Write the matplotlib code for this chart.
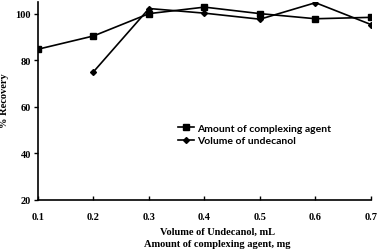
import matplotlib
matplotlib.use("Agg")
import matplotlib.pyplot as plt

x_agent = [0.1, 0.2, 0.3, 0.4, 0.5, 0.6, 0.7]
y_agent = [84.7, 90.4, 100.0, 102.8, 100.0, 97.8, 98.4]
x_vol = [0.2, 0.3, 0.4, 0.5, 0.6, 0.7]
y_vol = [75.0, 102.2, 100.2, 97.6, 104.7, 95.3]
xticks = [0.1, 0.2, 0.3, 0.4, 0.5, 0.6, 0.7]
yticks = [20, 40, 60, 80, 100]

fig = plt.figure(figsize=(3.78, 2.51), dpi=100)
ax = fig.add_axes([38/378, 1-200.7/251, (371-38)/378, (200.7-3)/251])

ax.plot(x_agent, y_agent, color='black', lw=1.2, marker='s', ms=5, label='Amount of complexing agent')
ax.plot(x_vol, y_vol, color='black', lw=1.2, marker='D', ms=3, label='Volume of undecanol')

ax.set_xlim(0.1, 0.7)
ax.set_ylim(20, 105)
ax.set_xticks(xticks)
ax.set_xticklabels([f"{v:.1f}" for v in xticks])
ax.set_yticks(yticks)
ax.set_yticklabels([str(v) for v in yticks])
for s in ['top', 'right']:
    ax.spines[s].set_visible(False)
for s in ['left', 'bottom']:
    ax.spines[s].set_linewidth(1.2)
ax.tick_params(axis='x', direction='in', length=3, width=1, pad=9)
ax.tick_params(axis='y', direction='out', length=3, width=1, pad=2)
for lab in ax.get_xticklabels() + ax.get_yticklabels():
    lab.set_fontfamily('Liberation Serif')
    lab.set_fontweight('bold')
    lab.set_fontsize(7.5)

fig.text(5/378, 1-101/251, '% Recovery', rotation=90, ha='center', va='center',
         family='Liberation Serif', weight='bold', fontsize=7.5)
fig.text(218/378, 1-232/251, 'Volume of Undecanol, mL', ha='center', va='center',
         family='Liberation Serif', weight='bold', fontsize=7.5)
fig.text(217/378, 1-245/251, 'Amount of complexing agent, mg', ha='center', va='center',
         family='Liberation Serif', weight='bold', fontsize=7.5)

leg = ax.legend(loc='center left', bbox_to_anchor=(178/378, 1-135.5/251),
                bbox_transform=fig.transFigure, frameon=False,
                prop={'family': 'Lato', 'weight': 'bold', 'size': 7.5},
                handlelength=1.5, handletextpad=0.3, labelspacing=0.3, borderpad=0,
                borderaxespad=0)

fig.savefig('out.png', dpi=100)
